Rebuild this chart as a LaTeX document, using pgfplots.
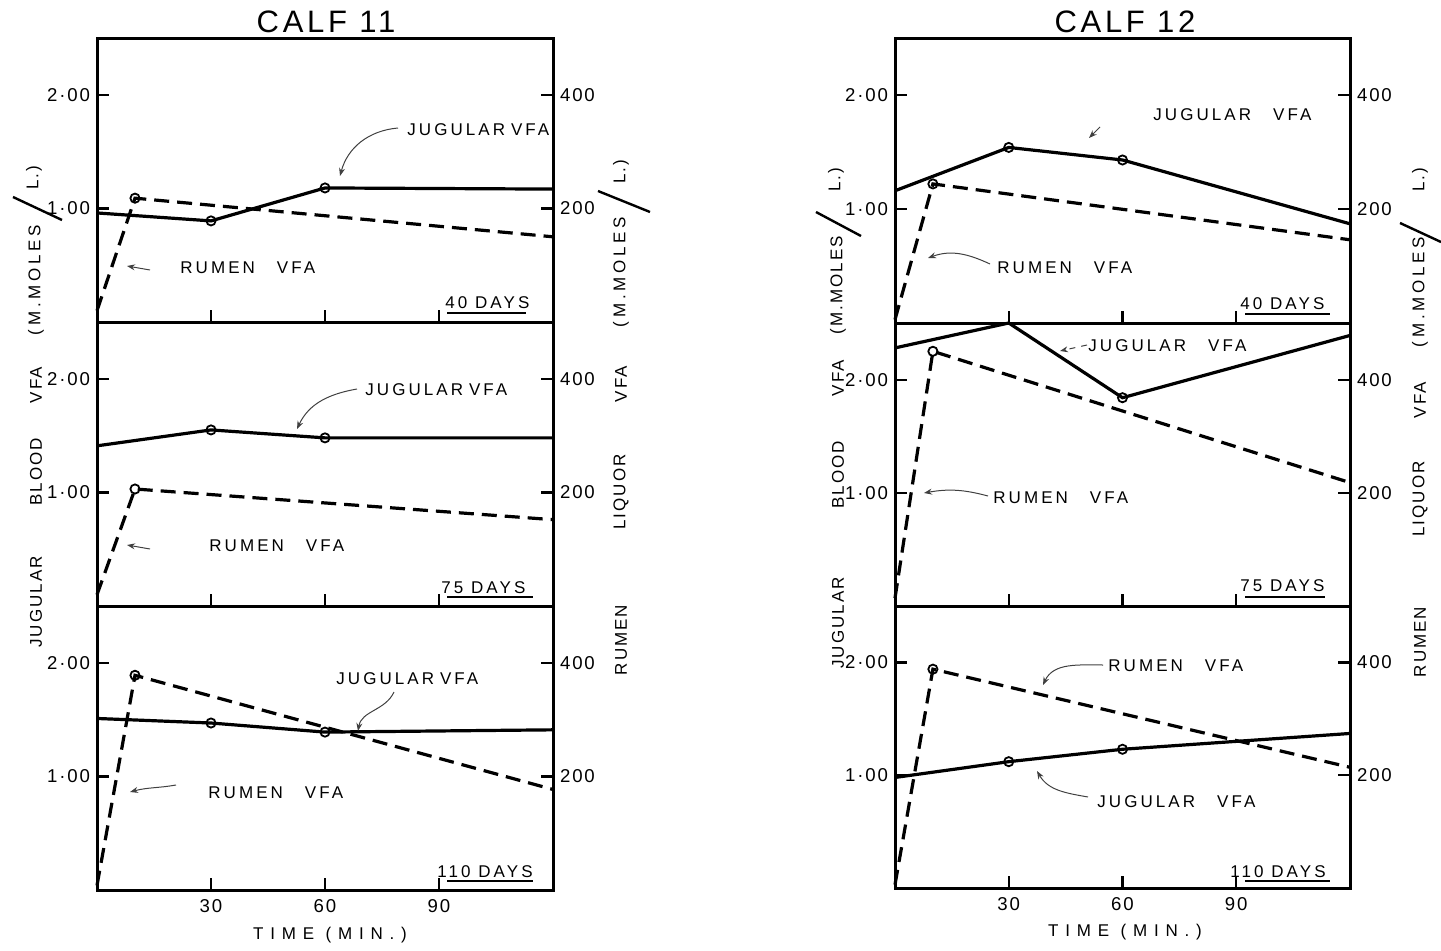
\documentclass[border=0pt]{standalone}
\usepackage{fontspec}
\setmainfont{Liberation Sans}
\newfontfamily\tickf[LetterSpace=10]{Liberation Sans}
\newfontfamily\annf[LetterSpace=18]{Liberation Sans}
\newfontfamily\timef[LetterSpace=40]{Liberation Sans}
\newfontfamily\titlef[LetterSpace=12]{Liberation Sans}
\newfontfamily\vf[LetterSpace=12]{Liberation Sans}
\newfontfamily\vfw[LetterSpace=22]{Liberation Sans}
\newcommand\tickfont{\tickf\fontsize{9.3}{10}\selectfont}
\newcommand\annfont{\annf\fontsize{8.5}{10}\selectfont}
\usepackage{pgfplots}
\pgfplotsset{compat=1.18}
\usetikzlibrary{arrows.meta}

\pgfplotsset{
  base/.style={scale only axis, xmin=0, xmax=120, clip=false,
    tick align=inside, major tick length=6pt,
    every tick/.style={black, line width=1.1pt},
    axis line style={line width=1.5pt}},
  lefta/.style={base, ymin=0, ymax=2.5, ytick={1,2}, yticklabels={1·00,2·00},
    ytick pos=left, xtick={30,60,90}, xtick pos=bottom, xticklabels={},
    yticklabel style={font=\tickfont}},
  righta/.style={base, ymin=0, ymax=500, axis y line*=right, axis x line=none,
    ytick={200,400}, yticklabels={200,400}, yticklabel style={font=\tickfont}},
  bottomx/.style={xticklabels={30,60,90}, xticklabel style={font=\tickfont, yshift=-1pt}},
  jug/.style={black, line width=1.6pt, mark=o, mark size=2.3pt,
    mark options={fill=white, line width=0.9pt}},
  rum/.style={black, line width=1.6pt, dash pattern=on 7.5pt off 4pt, mark=o, mark size=2.3pt,
    mark options={solid, fill=white, line width=0.9pt}},
}

% #1 x0, #2 y0, #3 width, #4 height, #5 jugular, #6 rumen (m.moles/L), #7 extra, #8 jugular marks
\newcommand{\panel}[8]{%
\begin{axis}[lefta, at={(#1,#2)}, anchor=south west, width=#3, height=#4, #7]
\addplot[jug, mark indices={#8}] coordinates {#5};
\end{axis}
\begin{axis}[righta, at={(#1,#2)}, anchor=south west, width=#3, height=#4]
\addplot[rum, mark indices={2}] coordinates {#6};
\end{axis}}

\begin{document}
\begin{tikzpicture}
\useasboundingbox (0,0) rectangle (720.5pt,475pt);

% ---------------- CALF 11 ----------------
\panel{48.5pt}{314pt}{228pt}{142pt}%
  {(0,0.96)(30,0.89)(60,1.18)(120,1.17)}%
  {(0,20)(10,218)(120,150)}{}{2,3}
\panel{48.5pt}{172pt}{228pt}{142pt}%
  {(0,1.41)(30,1.55)(60,1.48)(120,1.48)}%
  {(0,20)(10,206)(120,152)}{}{2,3}
\panel{48.5pt}{30pt}{228pt}{142pt}%
  {(0,1.51)(30,1.47)(60,1.39)(120,1.41)}%
  {(0,8)(10,378)(120,177)}{bottomx}{2,3}

% ---------------- CALF 12 ----------------
\panel{447.5pt}{313.5pt}{227.5pt}{142.5pt}%
  {(0,1.16)(30,1.54)(60,1.43)(120,0.87)}%
  {(0,6)(10,244)(120,146)}{}{2,3}
\panel{447.5pt}{172pt}{227.5pt}{141.5pt}%
  {(0,2.28)(30,2.50)(60,1.84)(120,2.39)}%
  {(0,14)(10,450)(120,218)}{}{3}
\panel{447.5pt}{31pt}{227.5pt}{141pt}%
  {(0,0.98)(30,1.12)(60,1.23)(120,1.37)}%
  {(0,6)(10,388)(120,214)}{bottomx}{2,3}

% ---------------- annotations (pixel coordinates) ----------------
\begin{scope}[x=0.5pt, y=-0.5pt, shift={(0pt,475pt)}]
\tikzset{ann/.style={anchor=base west, font=\annfont, inner sep=0pt},
         arr/.style={black!75, line width=0.5pt, -{Stealth[length=4pt,width=3pt]}},
         vw/.style={rotate=90, font=\vf\fontsize{8.5}{10}\selectfont, inner sep=0pt},
         vww/.style={rotate=90, font=\vfw\fontsize{8.5}{10}\selectfont, inner sep=0pt},
         ul/.style={black, line width=1.3pt}}
% titles
\node[anchor=base, font=\titlef\fontsize{15.5}{17}\selectfont, inner sep=0pt] at (326,33) {CALF 11};
\node[anchor=base, font=\titlef\fontsize{15.5}{17}\selectfont, inner sep=0pt] at (1125,33) {CALF 12};
% time labels
\node[anchor=base, font=\timef\fontsize{8.5}{10}\selectfont, inner sep=0pt] at (330,939) {TIME (MIN.)};
\node[anchor=base, font=\timef\fontsize{8.5}{10}\selectfont, inner sep=0pt] at (1125,936) {TIME (MIN.)};

% Calf 11 top
\node[ann] at (407,136) {JUGULAR\hspace{3pt}VFA};
\draw[arr] (398,128) to[out=185,in=75] (340,176);
\node[ann] at (180,274) {RUMEN\hspace{11pt}VFA};
\draw[arr] (150,270) -- (127,266);
\node[ann] at (445,309) {40 DAYS};
\draw[ul] (447,313) -- (526,313);
% Calf 11 middle
\node[ann] at (365,395) {JUGULAR\hspace{3pt}VFA};
\draw[arr] (357,389) to[out=190,in=65] (297,429);
\node[ann] at (209,551) {RUMEN\hspace{11pt}VFA};
\draw[arr] (150,549) -- (127,545);
\node[ann] at (441,593) {75 DAYS};
\draw[ul] (447,597) -- (533,597);
% Calf 11 bottom
\node[ann] at (336,684) {JUGULAR\hspace{3pt}VFA};
\draw[arr] (394,692) to[out=245,in=80] (358,731);
\node[ann] at (208,798) {RUMEN\hspace{11pt}VFA};
\draw[arr] (176,785) to[out=190,in=15] (130,792);
\node[ann] at (437,877) {110 DAYS};
\draw[ul] (447,881) -- (533,881);

% Calf 12 top
\node[ann] at (1153,121) {JUGULAR\hspace{11pt}VFA};
\draw[arr] (1100,127) -- (1089,138);
\node[ann] at (997,274) {RUMEN\hspace{11pt}VFA};
\draw[arr] (990,264) to[out=155,in=20] (928,258);
\node[ann] at (1240,310) {40 DAYS};
\draw[ul] (1245,314) -- (1330,314);
% Calf 12 middle
\node[ann] at (1088,351) {JUGULAR\hspace{11pt}VFA};
\draw[arr, dashed] (1087,345) -- (1060,351);
\node[ann] at (993,503) {RUMEN\hspace{11pt}VFA};
\draw[arr] (988,496) to[out=165,in=10] (924,493);
\node[ann] at (1240,591) {75 DAYS};
\draw[ul] (1245,597) -- (1325,597);
% Calf 12 bottom
\node[ann] at (1108,671) {RUMEN\hspace{11pt}VFA};
\draw[arr] (1103,665) to[out=180,in=65] (1043,685);
\node[ann] at (1097,807) {JUGULAR\hspace{11pt}VFA};
\draw[arr] (1088,797) to[out=170,in=-60] (1037,771);
\node[ann] at (1230,877) {110 DAYS};
\draw[ul] (1245,881) -- (1330,881);

% vertical axis titles: Calf 11 left
\node[vw] at (36,602) {JUGULAR};
\node[vw] at (36,472) {BLOOD};
\node[vw] at (36,385) {VFA};
\node[vww] at (36,280) {(M.MOLES};
\draw[line width=1.2pt] (13,197) -- (62,220);
\node[vw] at (34,178) {L.)};
% Calf 11 right
\node[vw] at (621,640) {RUMEN};
\node[vw] at (621,492) {LIQUOR};
\node[vw] at (621,384) {VFA};
\node[vww] at (621,272) {(M.MOLES};
\draw[line width=1.2pt] (598,191) -- (650,212);
\node[vw] at (621,172) {L.)};
% Calf 12 left
\node[vw] at (838,623) {JUGULAR};
\node[vw] at (838,475) {BLOOD};
\node[vw] at (838,378) {VFA};
\node[vw] at (838,285) {(M.MOLES};
\draw[line width=1.2pt] (816,212) -- (861,236);
\node[vw] at (836,180) {L.)};
% Calf 12 right
\node[vw] at (1420,642) {RUMEN};
\node[vw] at (1420,499) {LIQUOR};
\node[vw] at (1420,400) {VFA};
\node[vww] at (1420,292) {(M.MOLES};
\draw[line width=1.2pt] (1400,223) -- (1441,242);
\node[vw] at (1420,180) {L.)};
\end{scope}
\end{tikzpicture}
\end{document}
